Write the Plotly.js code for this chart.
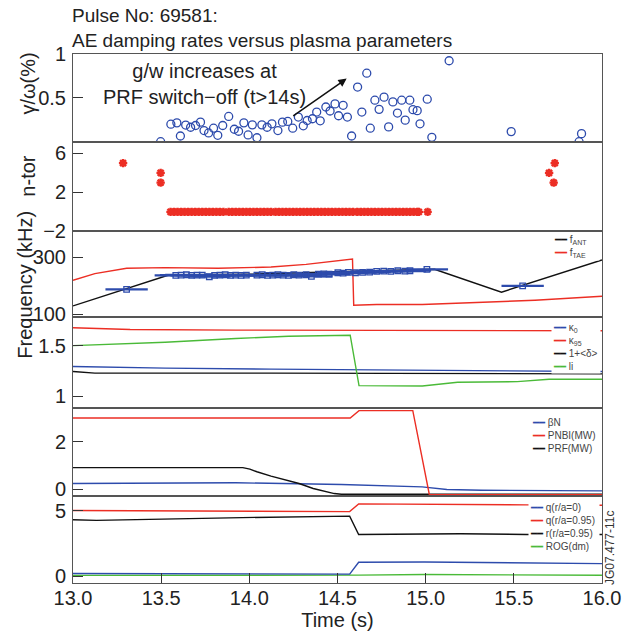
<!DOCTYPE html>
<html>
<head>
<meta charset="utf-8">
<script src="https://cdn.plot.ly/plotly-3.0.1.min.js"></script>
<style>html,body{margin:0;padding:0;background:#fff;}#chart{width:639px;height:639px;}</style>
</head>
<body>
<div id="chart"></div>
<script>
// ---------- data ----------
const timeTicks = [13, 13.5, 14, 14.5, 15, 15.5, 16];
const timeTickText = ['13.0', '13.5', '14.0', '14.5', '15.0', '15.5', '16.0'];

// Panel 1: damping rate gamma/omega (%)
const gammaT = [13.497,13.555,13.589,13.609,13.639,13.667,13.695,13.723,13.743,13.769,13.797,13.821,13.849,13.883,13.915,13.939,13.969,13.993,14.017,14.043,14.071,14.101,14.128,14.162,14.188,14.218,14.246,14.278,14.306,14.328,14.358,14.382,14.402,14.434,14.458,14.486,14.506,14.532,14.556,14.58,14.614,14.638,14.666,14.686,14.712,14.736,14.764,14.79,14.814,14.84,14.864,14.884,14.91,14.928,14.952,14.968,15.009,15.035,15.133,15.485,15.87,15.884];
const gammaV = [0.0,0.2,0.215,0.065,0.19,0.165,0.185,0.223,0.127,0.1,0.154,0.073,0.185,0.288,0.142,0.119,0.215,0.077,0.192,0.045,0.192,0.165,0.204,0.127,0.223,0.231,0.154,0.281,0.181,0.242,0.262,0.338,0.238,0.396,0.35,0.431,0.296,0.415,0.281,0.065,0.623,0.338,0.781,0.154,0.473,0.369,0.508,0.169,0.454,0.327,0.473,0.246,0.473,0.365,0.354,0.204,0.485,0.05,0.923,0.115,0.0,0.092];
const gammaTicks = [0.5, 1];

// Panel 2: toroidal mode number
const ntorT = [13.284,13.497,13.497,
  13.553,13.573,13.593,13.613,13.633,13.653,13.673,13.693,13.713,13.733,13.753,13.773,13.793,13.813,13.833,13.853,
  13.883,13.903,13.923,13.943,13.963,13.983,14.003,14.023,14.043,14.063,14.083,14.103,14.123,
  14.148,14.168,14.188,14.208,14.228,14.248,14.268,14.288,14.308,14.328,14.348,14.368,14.388,14.408,14.428,14.448,14.468,14.488,14.508,14.528,14.548,14.568,14.588,
  14.612,14.632,14.652,14.672,14.692,14.712,14.732,14.752,14.772,14.792,14.812,14.832,14.852,14.872,14.892,14.912,14.932,14.952,14.961,
  15.011,
  15.70,15.726,15.732];
const ntorN = [5,4,3,
  0,0,0,0,0,0,0,0,0,0,0,0,0,0,0,0,
  0,0,0,0,0,0,0,0,0,0,0,0,0,
  0,0,0,0,0,0,0,0,0,0,0,0,0,0,0,0,0,0,0,0,0,0,0,
  0,0,0,0,0,0,0,0,0,0,0,0,0,0,0,0,0,0,0,
  0,
  4,3,5];
const ntorTicks = [-2, 2, 6];

// Panel 3: frequencies (kHz)
const fAntT = [13.0, 13.543, 14.0, 14.5, 15.05, 15.43, 16.0];
const fAntV = [129, 237, 240, 248, 257, 177, 290];
const fTaeT = [13.0,13.124,13.304,13.523,13.823,14.123,14.322,14.442,14.522,14.585,14.592,14.722,14.981,15.321,15.62,16.0];
const fTaeV = [218.6,241.9,260.5,262.8,260.5,265,274.4,282.6,288.4,293,131.4,133.7,133.7,140.7,148.8,162.8];
const fMeasT = [13.304,
  13.583,13.613,13.643,13.673,13.703,13.733,13.773,13.803,13.833,13.863,13.893,13.923,13.953,13.983,
  14.043,14.073,14.103,14.133,14.162,14.192,14.222,14.252,14.282,14.322,14.352,
  14.392,14.422,14.452,
  14.502,14.532,14.562,14.602,14.642,14.682,
  14.722,14.762,14.802,14.842,14.882,14.911,
  15.007, 15.55];
const fMeasV = [187,
  236,237,238,236,237,237,231,236,237,238,236,237,236,237,
  237,238,236,237,238,237,236,238,237,238,232,
  240,241,240,
  245,244,246,245,246,247,
  250,251,250,252,251,252,
  257, 199];
const fMeasHalfWindow = 0.12;
const freqTicks = [100, 300];

// Panel 4: shape parameters
const kappa0T = [13.0,13.523,14.123,14.622,15.021,15.7,16.0];
const kappa0V = [1.293,1.277,1.267,1.26,1.257,1.243,1.243];
const kappa95T = [13.0,13.324,13.923,14.622,15.021,15.321,15.7,16.0];
const kappa95V = [1.677,1.66,1.653,1.653,1.653,1.65,1.647,1.647];
const deltaT = [13.0,13.124,14.123,14.921,15.7,16.0];
const deltaV = [1.243,1.227,1.227,1.223,1.22,1.22];
const liT = [13.0,13.523,13.923,14.222,14.572,14.622,14.981,15.181,15.52,15.7,16.0];
const liV = [1.5,1.533,1.57,1.593,1.603,1.103,1.1,1.137,1.143,1.167,1.167];
const shapeTicks = [1, 1.5];

// Panel 5: betaN and heating powers
const betaNT = [13.0,13.923,14.522,14.921,14.98,15.12,15.32,16.0];
const betaNV = [0.25,0.28,0.21,0.14,0.11,0.0,-0.03,-0.06];
const pnbiT = [13.0,14.572,14.622,14.927,15.021,16.0];
const pnbiV = [2.98,2.98,3.29,3.29,-0.22,-0.22];
const prfT = [13.0,13.963,14.003,14.043,14.123,14.222,14.282,14.362,14.482,14.522,16.0];
const prfV = [0.91,0.91,0.85,0.74,0.56,0.35,0.25,0.04,-0.17,-0.2,-0.2];
const powerTicks = [0, 2];

// Panel 6: q profile, radius, ROG
const q0T = [13.0,14.569,14.62,14.992,16.0];
const q0V = [0.2,0.15,1.05,1.07,0.95];
const q95T = [13.0,13.959,14.569,14.62,14.992,15.571,16.0];
const q95V = [5.0,4.92,4.92,5.51,5.46,5.43,5.40];
const r95T = [13.0,13.133,13.959,14.569,14.62,15.199,15.571,16.0];
const r95V = [4.3,4.25,4.46,4.57,3.17,3.23,3.17,3.17];
const rogT = [13.0,14.569,14.62,14.992,15.571,16.0];
const rogV = [0.05,0.05,0.07,0.12,0.07,0.06];
const qTicks = [0, 5];

// legend labels
const freqNames = ['f<sub>ANT</sub>', 'f<sub>TAE</sub>'];
const shapeNames = ['κ<sub>0</sub>', 'κ<sub>95</sub>', '1+&lt;δ&gt;', 'li'];
const powerNames = ['βN', 'PNBI(MW)', 'PRF(MW)'];
const qNames = ['q(r/a=0)', 'q(r/a=0.95)', 'r(r/a=0.95)', 'ROG(dm)'];

// ---------- style ----------
const BLUE = 'rgb(45,75,172)';
const RED = 'rgb(236,46,36)';
const GREEN = 'rgb(74,186,56)';
const BLACK = '#111';
const FONT = 'Liberation Sans, Arial, Helvetica, sans-serif';
const LW = 1.4;

function line(x, y, color, xa, ya, name) {
  return {x: x, y: y, xaxis: xa, yaxis: ya, name: name, type: 'scatter', mode: 'lines',
          line: {color: color, width: LW}, hoverinfo: 'skip'};
}

const traces = [
  {x: gammaT, y: gammaV, xaxis: 'x', yaxis: 'y', type: 'scatter', mode: 'markers', name: 'γ/ω',
   marker: {symbol: 'circle-open', size: 8, color: BLUE, line: {width: 1.3, color: BLUE}}, cliponaxis: true},
  {x: ntorT, y: ntorN, xaxis: 'x2', yaxis: 'y2', type: 'scatter', mode: 'markers', name: 'n-tor',
   marker: {symbol: 'asterisk-open', size: 7, color: RED, line: {width: 2.4, color: RED}}},
  line(fTaeT, fTaeV, RED, 'x3', 'y3', 'fTAE'),
  line(fAntT, fAntV, BLACK, 'x3', 'y3', 'fANT'),
  {x: fMeasT, y: fMeasV, xaxis: 'x3', yaxis: 'y3', type: 'scatter', mode: 'markers', name: 'f meas',
   marker: {symbol: 'square-open', size: 5.5, color: BLUE, line: {width: 1.3, color: BLUE}},
   error_x: {type: 'constant', value: fMeasHalfWindow, color: BLUE, thickness: 2.2, width: 0}},
  line(kappa95T, kappa95V, RED, 'x4', 'y4', 'κ95'),
  line(kappa0T, kappa0V, BLUE, 'x4', 'y4', 'κ0'),
  line(deltaT, deltaV, BLACK, 'x4', 'y4', '1+<δ>'),
  line(liT, liV, GREEN, 'x4', 'y4', 'li'),
  line(betaNT, betaNV, BLUE, 'x5', 'y5', 'βN'),
  line(prfT, prfV, BLACK, 'x5', 'y5', 'PRF'),
  line(pnbiT, pnbiV, RED, 'x5', 'y5', 'PNBI'),
  line(rogT, rogV, GREEN, 'x6', 'y6', 'ROG'),
  line(q0T, q0V, BLUE, 'x6', 'y6', 'q0'),
  line(r95T, r95V, BLACK, 'x6', 'y6', 'r95'),
  line(q95T, q95V, RED, 'x6', 'y6', 'q95')
];

const FRAME = '#555';
function xAxis(isBottom, anchor) {
  const a = {range: [13, 16], anchor: anchor, showline: true, mirror: true, linecolor: FRAME, linewidth: 1,
             showgrid: false, zeroline: false, fixedrange: true};
  if (isBottom) {
    Object.assign(a, {tickmode: 'array', tickvals: timeTicks, ticktext: timeTickText, ticks: 'inside',
      ticklen: 10, tickcolor: '#333', tickwidth: 1, ticklabelstandoff: -3,
      tickfont: {family: FONT, size: 20, color: '#222'},
      title: {text: 'Time (s)', font: {family: FONT, size: 20, color: '#222'}, standoff: 3}});
  } else {
    Object.assign(a, {matches: 'x', showticklabels: false, ticks: ''});
  }
  return a;
}
function yAxis(domain, range, ticks, anchor) {
  return {domain: domain, range: range, anchor: anchor, tickmode: 'array', tickvals: ticks,
          ticks: 'inside', ticklen: 10, tickcolor: '#333', tickwidth: 1, ticklabelstandoff: 2,
          tickfont: {family: FONT, size: 20, color: '#222'},
          showline: true, mirror: true, linecolor: FRAME, linewidth: 1,
          showgrid: false, zeroline: false, fixedrange: true};
}

function legendText(names, colors) {
  return names.map((n, i) => '<span style="color:' + colors[i] + '">━━</span> ' + n).join('<br>');
}
function legendAnn(names, colors, x, y, w) {
  return {xref: 'paper', yref: 'paper', x: x, y: y, xanchor: 'left', yanchor: 'middle', align: 'left',
          showarrow: false, text: legendText(names, colors), bgcolor: '#fff', borderpad: 1, width: w,
          font: {family: FONT, size: 10, color: '#444'}};
}
function yTitle(text, x, y) {
  return {xref: 'paper', yref: 'paper', x: x, y: y, xanchor: 'center', yanchor: 'middle', textangle: -90,
          showarrow: false, text: text, font: {family: FONT, size: 20, color: '#222'}};
}

const layout = {
  width: 639, height: 639,
  margin: {l: 73, r: 37, t: 54, b: 56, pad: 0},
  paper_bgcolor: '#fff', plot_bgcolor: '#fff',
  showlegend: false,
  font: {family: FONT, color: '#222'},
  title: {text: 'Pulse No: 69581:<br>AE damping rates versus plasma parameters',
          font: {family: FONT, size: 19, color: '#222'},
          xref: 'container', yref: 'container', x: 72 / 639, xanchor: 'left', y: 1 - 22 / 639, yanchor: 'middle'},
  xaxis: xAxis(false, 'y'), xaxis2: xAxis(false, 'y2'), xaxis3: xAxis(false, 'y3'),
  xaxis4: xAxis(false, 'y4'), xaxis5: xAxis(false, 'y5'), xaxis6: xAxis(true, 'y6'),
  yaxis: yAxis([0.8342, 1], [0, 1], gammaTicks, 'x'),
  yaxis2: yAxis([0.6648, 0.8342], [-2, 7.2], ntorTicks, 'x2'),
  yaxis3: yAxis([0.5028, 0.6648], [90, 390], freqTicks, 'x3'),
  yaxis4: yAxis([0.3299, 0.5028], [0.877, 1.783], shapeTicks, 'x4'),
  yaxis5: yAxis([0.1650, 0.3299], [-0.26, 3.38], powerTicks, 'x5'),
  yaxis6: yAxis([0, 0.1650], [-0.53, 6.13], qTicks, 'x6'),
  annotations: [
    {xref: 'x', yref: 'y', x: 13.743, y: 0.654, showarrow: false, align: 'center',
     text: 'g/w increases at<br>PRF switch−off (t&gt;14s)', font: {family: FONT, size: 20, color: '#222'}},
    {xref: 'x', yref: 'y', axref: 'x', ayref: 'y', x: 14.552, y: 0.72, ax: 14.232, ay: 0.27, text: ' ',
     showarrow: true, arrowhead: 2, arrowsize: 1.1, arrowwidth: 1.5, arrowcolor: '#111', standoff: 0},
    yTitle('γ/ω(%)', -0.0851, 0.944),
    yTitle('n-tor', -0.0851, 0.770),
    yTitle('Frequency (kHz)', -0.0907, 0.564),
    legendAnn(freqNames, [BLACK, RED], 0.9050, 0.6354, 44),
    legendAnn(shapeNames, [BLUE, RED, BLACK, GREEN], 0.9030, 0.4456, 46),
    legendAnn(powerNames, [BLUE, RED, BLACK], 0.8640, 0.2785, 66),
    legendAnn(qNames, [BLUE, RED, BLACK, GREEN], 0.8600, 0.1056, 68),
    {xref: 'paper', yref: 'paper', x: 1.0151, y: 0.068, xanchor: 'center', yanchor: 'middle', textangle: -90,
     showarrow: false, text: 'JG07.477-11c', font: {family: FONT, size: 12, color: '#333'}}
  ]
};

Plotly.newPlot('chart', traces, layout, {displayModeBar: false, staticPlot: true});
</script>
</body>
</html>
